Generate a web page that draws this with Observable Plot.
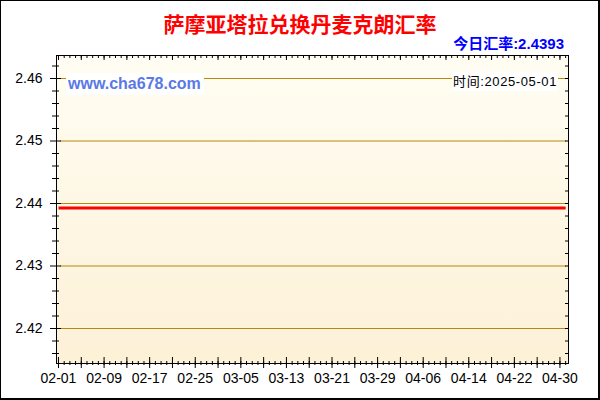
<!DOCTYPE html>
<html>
<head>
<meta charset="utf-8">
<script src="https://cdn.jsdelivr.net/npm/d3@7"></script>
<script src="https://cdn.jsdelivr.net/npm/@observablehq/plot@0.6"></script>
<style>
html, body { margin: 0; padding: 0; background: #fff; }
#wrap { position: relative; width: 600px; height: 400px; overflow: hidden; background: #fff; }
#wrap svg { position: absolute; left: 0; top: 0; }
.ov { position: absolute; white-space: nowrap; }
#title { left: 0; width: 600px; top: 13px; text-align: center; font: bold 21px/21px "Noto Sans CJK SC", sans-serif; color: #ff0000; }
#today { right: 36px; top: 36px; font: bold 15px/15px "Liberation Sans", "Noto Sans CJK SC", sans-serif; color: #0000ff; }
#wm { left: 66px; top: 73px; width: 138px; height: 22px; background: #fff; font: bold 16px/22px "Liberation Sans", Arial, sans-serif; color: #5a78e6; padding-left: 2px; box-sizing: border-box; }
#time { left: 452px; top: 72px; width: 106px; height: 19px; background: #fff; font: 13px/19px "Liberation Sans", "Noto Sans CJK SC", sans-serif; letter-spacing: 0.6px; color: #000; text-align: right; padding-right: 1px; box-sizing: border-box; }
#border { left: 0; top: 0; width: 600px; height: 400px; box-sizing: border-box; border-left: 1px solid #000; border-top: 1px solid #000; border-right: 2px solid #000; border-bottom: 2px solid #000; pointer-events: none; }
</style>
</head>
<body>
<div id="wrap"></div>
<script>
// ---- data ----
const dates = ["2025-02-01", "2025-03-01", "2025-04-01", "2025-05-01"];
const rates = [2.4393, 2.4393, 2.4393, 2.4393];
const yTickValues = [2.42, 2.43, 2.44, 2.45, 2.46];
const xTickLabels = ["02-01", "02-09", "02-17", "02-25", "03-05", "03-13", "03-21", "03-29", "04-06", "04-14", "04-22", "04-30"];
const year = "2025";
const titleText = "萨摩亚塔拉兑换丹麦克朗汇率";
const todayText = "今日汇率:2.4393";
const timeText = "时间:2025-05-01";
const watermarkText = "www.cha678.com";
const xDomain = ["2025-01-31T15:36:00Z", "2025-05-01T12:00:00Z"];
const yDomain = [2.4144, 2.46368];

// ---- derived ----
const rows = dates.map((d, i) => ({date: new Date(d), rate: rates[i]}));
const labelDates = xTickLabels.map(l => new Date(`${year}-${l}`));
const days = d3.utcDay.range(new Date(`${year}-02-01`), new Date(`${year}-05-02`));
const days4 = days.filter((d, i) => i % 4 === 0);
const yAll = d3.range(2416, 2464, 2).map(v => v / 1000);
const yMinor = yAll.filter(v => !yTickValues.some(t => Math.abs(t - v) < 1e-9));

const W = 600, H = 400, mL = 56, mR = 32, mT = 55, mB = 37;
const pw = W - mL - mR, ph = H - mT - mB;

const defs = () => {
  const g = d3.create("svg:defs");
  const lg = g.append("linearGradient").attr("id", "bgGrad").attr("x1", 0).attr("y1", 0).attr("x2", 0).attr("y2", 1);
  lg.append("stop").attr("offset", "0%").attr("stop-color", "#fffdf3");
  lg.append("stop").attr("offset", "100%").attr("stop-color", "#fdf1d7");
  return g.node();
};

const blank = () => "";

const chart = Plot.plot({
  width: W, height: H,
  marginLeft: mL, marginRight: mR, marginTop: mT, marginBottom: mB,
  style: {fontFamily: "'Liberation Sans', Arial, sans-serif", fontSize: "14px", color: "#000", background: "transparent", overflow: "visible"},
  x: {type: "utc", domain: xDomain.map(d => new Date(d))},
  y: {domain: yDomain},
  marks: [
    defs,
    Plot.frame({fill: "url(#bgGrad)"}),
    Plot.ruleY(yTickValues, {stroke: "#b8860b", strokeWidth: 1, insetLeft: 4, insetRight: 2}),
    Plot.line(rows, {x: "date", y: "rate", stroke: "#ff0000", strokeWidth: 3, strokeLinecap: "butt"}),
    // inward ticks
    Plot.ruleY(yTickValues, {stroke: "#000", insetRight: pw - 5}),
    Plot.ruleY(yMinor, {stroke: "#000", insetRight: pw - 3}),
    Plot.ruleY(yAll, {stroke: "#000", insetLeft: pw - 3}),
    Plot.ruleX(days, {stroke: "#000", insetTop: ph - 2}),
    Plot.ruleX(days4, {stroke: "#000", insetTop: ph - 6}),
    Plot.ruleX(days, {stroke: "#000", insetBottom: ph - 3}),
    Plot.ruleX(days4, {stroke: "#000", insetBottom: ph - 5}),
    Plot.frame({stroke: "#000"}),
    // outward ticks + labels
    Plot.axisY(yMinor, {anchor: "left", tickSize: 4, tickFormat: blank, label: null}),
    Plot.axisY(yTickValues, {anchor: "left", tickSize: 6, tickPadding: 8, tickFormat: d3.format(".2f"), label: null, fontSize: 14}),
    Plot.axisX(days, {anchor: "bottom", tickSize: 2, tickFormat: blank, label: null}),
    Plot.axisX(days4, {anchor: "bottom", tickSize: 5, tickFormat: blank, label: null}),
    Plot.axisX(labelDates, {anchor: "bottom", tickSize: 0, tickPadding: 10, tickFormat: d3.utcFormat("%m-%d"), label: null, fontSize: 14})
  ]
});

const wrap = document.getElementById("wrap");
wrap.appendChild(chart);
const add = (id, text) => {
  const d = document.createElement("div");
  d.className = "ov"; d.id = id; d.textContent = text;
  wrap.appendChild(d);
};
add("title", titleText);
add("today", todayText);
add("wm", watermarkText);
add("time", timeText);
add("border", "");
</script>
</body>
</html>
